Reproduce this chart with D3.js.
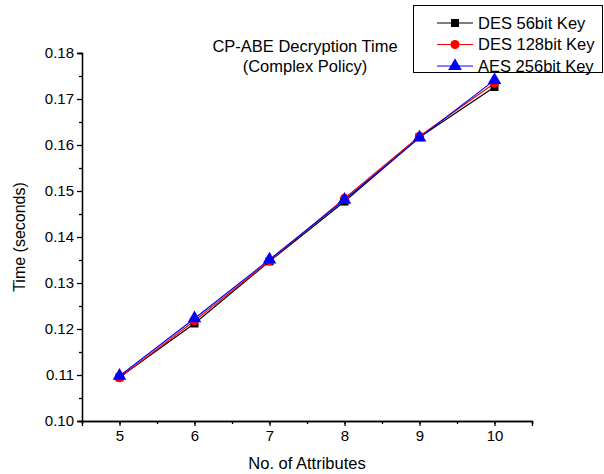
<!DOCTYPE html>
<html>
<head>
<meta charset="utf-8">
<script src="https://cdn.jsdelivr.net/npm/d3@7"></script>
<style>
body { margin: 0; background: #fff; }
text { font-family: "Liberation Sans", Arial, sans-serif; }
</style>
</head>
<body>
<div id="chart"></div>
<script>
var attributes = [5, 6, 7, 8, 9, 10],
    des56 = [0.1095, 0.1212, 0.1347, 0.1477, 0.1617, 0.1726],
    des128 = [0.1094, 0.1218, 0.1348, 0.1484, 0.1619, 0.1734],
    aes256 = [0.1098, 0.1223, 0.1351, 0.1481, 0.1616, 0.1741],
    seriesNames = ['DES 56bit Key', 'DES 128bit Key', 'AES 256bit Key'],
    seriesColors = ['#000000', '#ff0000', '#0000ff'],
    seriesShapes = [d3.symbolSquare, d3.symbolCircle, d3.symbolTriangle],
    yTicks = [0.10, 0.11, 0.12, 0.13, 0.14, 0.15, 0.16, 0.17, 0.18];

var width = 604,
    height = 474,
    svg = d3.select('#chart').append('svg')
        .attr('width', width)
        .attr('height', height);

var x = d3.scaleLinear().domain([4.5, 10.5]).range([82, 532]),
    y = d3.scaleLinear().domain([0.10, 0.18]).range([421, 53]);

var series = [des56, des128, aes256].map(function (vals, i) {
    return {
        name: seriesNames[i],
        color: seriesColors[i],
        shape: seriesShapes[i],
        values: vals.map(function (v, j) { return {x: attributes[j], y: v}; })
    };
});

// axes
var xAxis = d3.axisBottom(x).tickValues(attributes).tickSize(5).tickPadding(4)
        .tickFormat(d3.format('d')),
    xMinor = d3.axisBottom(x).tickValues(d3.range(4.5, 10.51, 0.5)).tickSize(3).tickFormat(''),
    yAxis = d3.axisLeft(y).tickValues(yTicks).tickSize(5).tickPadding(3)
        .tickFormat(d3.format('.2f')),
    yMinor = d3.axisLeft(y).tickValues(d3.range(0.105, 0.18, 0.01)).tickSize(3).tickFormat('');

function styleAxis(g) {
    g.select('.domain').attr('stroke', '#000').attr('stroke-width', 1.3);
    g.selectAll('.tick line').attr('stroke', '#000').attr('stroke-width', 1.3);
    g.selectAll('.tick text').attr('font-size', 15).attr('fill', '#000')
        .style('font-family', '"Liberation Sans", Arial, sans-serif');
}

svg.append('g').attr('transform', 'translate(0,421)').call(xMinor).call(styleAxis);
svg.append('g').attr('transform', 'translate(0,421)').call(xAxis).call(styleAxis);
svg.append('g').attr('transform', 'translate(82,0)').call(yMinor).call(styleAxis);
svg.append('g').attr('transform', 'translate(82,0)').call(yAxis).call(styleAxis);

// axis titles
svg.append('text')
    .attr('x', 307).attr('y', 469)
    .attr('text-anchor', 'middle')
    .attr('font-size', 16.5)
    .text('No. of Attributes');
svg.append('text')
    .attr('transform', 'translate(25,237) rotate(-90)')
    .attr('text-anchor', 'middle')
    .attr('font-size', 16)
    .text('Time (seconds)');

// chart title
svg.selectAll('.title')
    .data(['CP-ABE Decryption Time', '(Complex Policy)'])
    .enter()
    .append('text')
    .attr('x', 305)
    .attr('y', function (d, i) { return 52 + i * 20; })
    .attr('text-anchor', 'middle')
    .attr('font-size', 16.5)
    .text(function (d) { return d; });

// lines
var line = d3.line()
    .x(function (d) { return x(d.x); })
    .y(function (d) { return y(d.y); });

series.forEach(function (s) {
    svg.append('path')
        .datum(s.values)
        .attr('fill', 'none')
        .attr('stroke', s.color)
        .attr('stroke-width', 1.2)
        .attr('d', line);
});

series.forEach(function (s) {
    svg.selectAll(null)
        .data(s.values)
        .enter()
        .append('path')
        .attr('transform', function (d) { return 'translate(' + x(d.x) + ',' + y(d.y) + ')'; })
        .attr('d', d3.symbol().type(s.shape).size(s.shape === d3.symbolTriangle ? 80 : 64))
        .attr('fill', s.color);
});

// legend
var legend = svg.append('g');
legend.append('rect')
    .attr('x', 413.5).attr('y', 5.5)
    .attr('width', 189).attr('height', 67)
    .attr('fill', '#fff')
    .attr('stroke', '#000')
    .attr('stroke-width', 1);

series.forEach(function (s, i) {
    var ly = 23 + i * 21.5;
    legend.append('line')
        .attr('x1', 437).attr('x2', 473)
        .attr('y1', ly).attr('y2', ly)
        .attr('stroke', s.color)
        .attr('stroke-width', 1.2);
    legend.append('path')
        .attr('transform', 'translate(455,' + ly + ')')
        .attr('d', d3.symbol().type(s.shape).size(s.shape === d3.symbolTriangle ? 80 : 64))
        .attr('fill', s.color);
    legend.append('text')
        .attr('x', 478).attr('y', ly + 5.5)
        .attr('font-size', 16.5)
        .text(s.name);
});
</script>
</body>
</html>
